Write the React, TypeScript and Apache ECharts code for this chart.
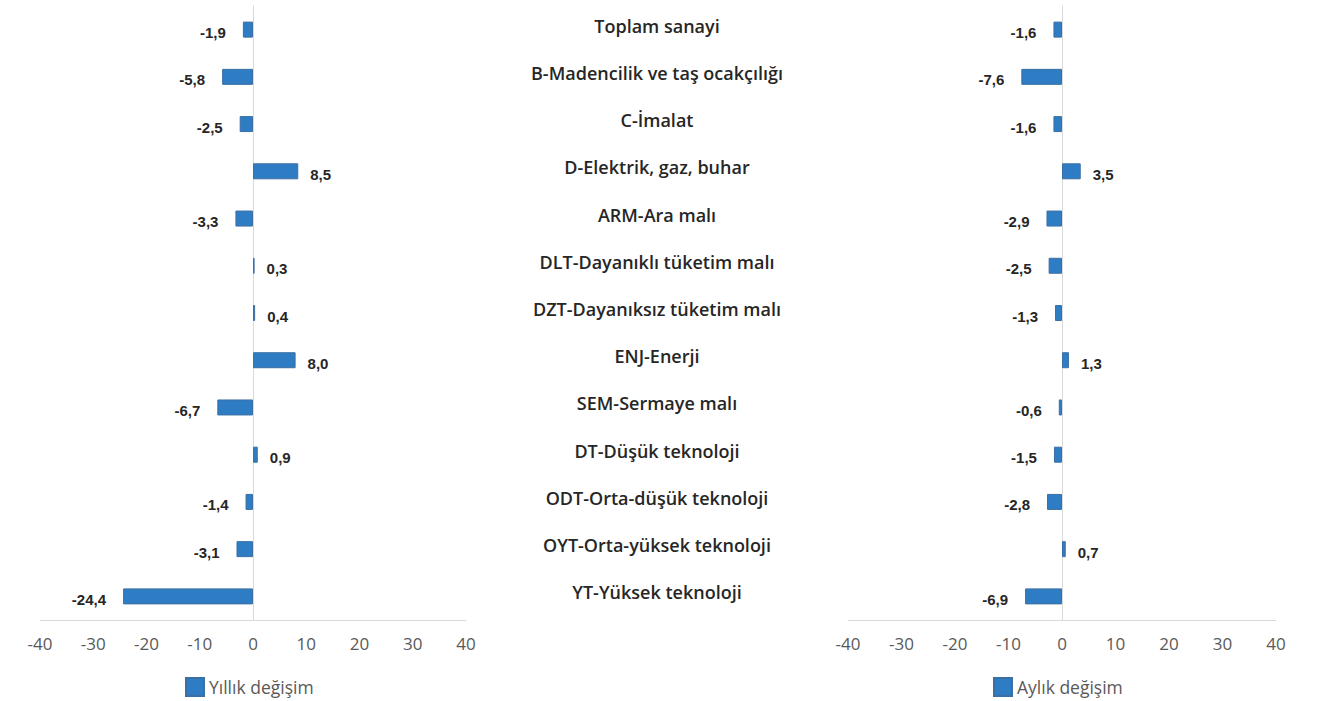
import React, { useEffect, useRef } from "react";
import * as echarts from "echarts";

const categories = [
  "Toplam sanayi",
  "B-Madencilik ve taş ocakçılığı",
  "C-İmalat",
  "D-Elektrik, gaz, buhar",
  "ARM-Ara malı",
  "DLT-Dayanıklı tüketim malı",
  "DZT-Dayanıksız tüketim malı",
  "ENJ-Enerji",
  "SEM-Sermaye malı",
  "DT-Düşük teknoloji",
  "ODT-Orta-düşük teknoloji",
  "OYT-Orta-yüksek teknoloji",
  "YT-Yüksek teknoloji",
];
const yillik = [-1.9, -5.8, -2.5, 8.5, -3.3, 0.3, 0.4, 8.0, -6.7, 0.9, -1.4, -3.1, -24.4];
const aylik = [-1.6, -7.6, -1.6, 3.5, -2.9, -2.5, -1.3, 1.3, -0.6, -1.5, -2.8, 0.7, -6.9];
const seriesNames = ["Yıllık değişim", "Aylık değişim"];

const fmt = (v: number) => v.toFixed(1).replace(".", ",");
const BAR = "#2E7DC4";
const BORDER = "#3C6FA3";

function makeData(vals: number[]) {
  return vals.map((v) => ({
    value: v,
    label: {
      position: v < 0 ? "left" : "right",
      distance: v < 0 ? 17 : 12,
    },
  }));
}

export default function App() {
  const ref = useRef<HTMLDivElement>(null);
  useEffect(() => {
    if (!ref.current) return;
    const chart = echarts.init(ref.current, null, { renderer: "svg" });
    const valueAxis = (gi: number) => ({
      type: "value",
      gridIndex: gi,
      min: -40,
      max: 40,
      interval: 10,
      splitLine: { show: false },
      axisTick: { show: false },
      axisLine: { show: true, lineStyle: { color: "#D9D9D9", width: 1 } },
      axisLabel: {
        color: "#595959",
        fontSize: 17,
        fontFamily: "Open Sans",
        margin: 15,
      },
    });
    const labelCommon = {
      show: true,
      formatter: (p: any) => fmt(p.value),
      color: "#262626",
      fontSize: 15,
      fontWeight: "bold",
      fontFamily: "Liberation Sans",
      offset: [0, 3],
    };
    const legendText = { color: "#595959", fontSize: 17.5, fontFamily: "Open Sans" };
    chart.setOption({
      animation: false,
      grid: [
        { left: 40, right: 853, top: 6, bottom: 81 },
        { left: 848, right: 43, top: 6, bottom: 81 },
      ],
      legend: [
        {
          data: [{ name: seriesNames[0], icon: "rect" }],
          left: 180,
          top: 672,
          itemWidth: 18,
          itemHeight: 18,
          itemGap: 8,
          textStyle: legendText,
        },
        {
          data: [{ name: seriesNames[1], icon: "rect" }],
          left: 988,
          top: 672,
          itemWidth: 18,
          itemHeight: 18,
          itemGap: 8,
          textStyle: legendText,
        },
      ],
      xAxis: [valueAxis(0), valueAxis(1)],
      yAxis: [
        {
          type: "category",
          gridIndex: 0,
          data: categories,
          inverse: true,
          axisTick: { show: false },
          axisLabel: { show: false },
          axisLine: { show: true, onZero: true, lineStyle: { color: "#D9D9D9" } },
        },
        {
          type: "category",
          gridIndex: 1,
          data: categories,
          inverse: true,
          axisTick: { show: false },
          axisLine: { show: true, onZero: true, lineStyle: { color: "#D9D9D9" } },
          axisLabel: {
            show: true,
            align: "center",
            margin: 191,
            color: "#262626",
            fontSize: 18,
            fontWeight: 600,
            fontFamily: "Open Sans",
            verticalAlign: "bottom",
            lineHeight: 8,
          },
        },
      ],
      series: [
        {
          name: seriesNames[0],
          type: "bar",
          xAxisIndex: 0,
          yAxisIndex: 0,
          barWidth: 16,
          data: makeData(yillik),
          itemStyle: { color: BAR, borderColor: BORDER, borderWidth: 1 },
          label: labelCommon,
        },
        {
          name: seriesNames[1],
          type: "bar",
          xAxisIndex: 1,
          yAxisIndex: 1,
          barWidth: 16,
          data: makeData(aylik),
          itemStyle: { color: BAR, borderColor: BORDER, borderWidth: 1 },
          label: labelCommon,
        },
      ],
    });
    return () => chart.dispose();
  }, []);
  return (
    <div
      ref={ref}
      style={{ position: "fixed", left: 0, top: 0, width: 1319, height: 701, background: "#fff" }}
    />
  );
}
